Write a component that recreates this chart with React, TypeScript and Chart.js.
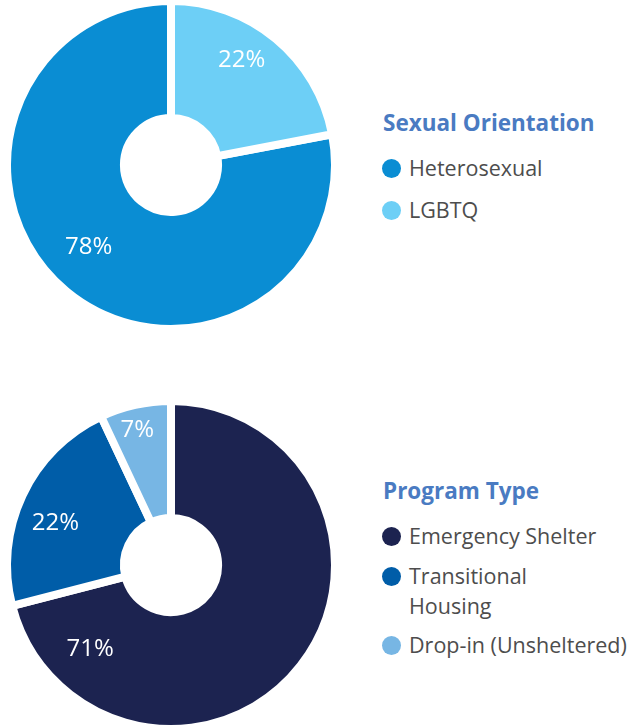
import React, { useEffect, useRef } from "react";
import { Chart, registerables } from "chart.js";

Chart.register(...registerables);

// ---- Data ----
const orientationTitle = "Sexual Orientation";
const orientationLabels = ["Heterosexual", "LGBTQ"];
const orientationValues = [78, 22];
const orientationColors = ["#0A8DD3", "#6DCFF6"];

const programTitle = "Program Type";
const programLabels = ["Emergency Shelter", "Transitional\nHousing", "Drop-in (Unsheltered)"];
const programValues = [71, 22, 7];
const programColors = ["#1C2350", "#005DA8", "#77B6E4"];

const FONT = "'Open Sans', 'Noto Sans', sans-serif";

const sliceLabels = {
  id: "sliceLabels",
  afterDatasetsDraw(chart: any, _args: any, opts: any) {
    const meta = chart.getDatasetMeta(0);
    const ds = chart.data.datasets[0];
    const ctx = chart.ctx;
    ctx.save();
    ctx.font = `400 24px ${FONT}`;
    ctx.fillStyle = "#ffffff";
    ctx.textAlign = "center";
    ctx.textBaseline = "middle";
    meta.data.forEach((arc: any, i: number) => {
      const { x, y, outerRadius } = arc.getProps(["x", "y", "outerRadius"], true);
      const pos = opts.positions[i];
      const a = ((pos.angle - 90) * Math.PI) / 180;
      const r = pos.r * outerRadius;
      ctx.fillText(ds.data[i] + "%", x + r * Math.cos(a), y + r * Math.sin(a));
    });
    ctx.restore();
  },
};

type BlockProps = {
  top: number;
  title: string;
  labels: string[];
  values: number[];
  colors: string[];
  rotation: number;
  positions: { angle: number; r: number }[];
  titleY: number;
  itemYs: number[];
};

const CW = 342;
const CH = 336;

function DonutBlock(p: BlockProps) {
  const ref = useRef<HTMLCanvasElement | null>(null);
  useEffect(() => {
    if (!ref.current) return;
    const chart = new Chart(ref.current, {
      type: "doughnut",
      data: {
        labels: p.labels,
        datasets: [
          {
            data: p.values,
            backgroundColor: p.colors,
            borderWidth: 8,
            borderColor: "#ffffff",
            borderAlign: "center",
          },
        ],
      },
      options: {
        responsive: false,
        animation: false,
        cutout: "28.7%",
        rotation: p.rotation,
        layout: { padding: 0 },
        plugins: {
          legend: { display: false },
          tooltip: { enabled: false },
          sliceLabels: { positions: p.positions },
        } as any,
      },
      plugins: [sliceLabels],
    });
    return () => chart.destroy();
  }, []);

  return (
    <>
      <canvas
        ref={ref}
        width={CW}
        height={CH}
        style={{ position: "absolute", left: 0, top: p.top, width: CW, height: CH, display: "block" }}
      />
      <div
        style={{
          position: "absolute",
          left: 383,
          top: p.titleY - 15,
          height: 30,
          lineHeight: "30px",
          fontFamily: FONT,
          fontWeight: 700,
          fontSize: 22.5,
          color: "#4A7BC2",
          whiteSpace: "nowrap",
        }}
      >
        {p.title}
      </div>
      {p.labels.map((lab, i) => (
        <React.Fragment key={i}>
          <div
            style={{
              position: "absolute",
              left: 382,
              top: p.itemYs[i] - 9.5,
              width: 19,
              height: 19,
              borderRadius: "50%",
              background: p.colors[i],
            }}
          />
          <div
            style={{
              position: "absolute",
              left: 409,
              top: p.itemYs[i] - 15,
              lineHeight: "30px",
              fontFamily: FONT,
              fontSize: 21.5,
              color: "#4D4D4D",
              whiteSpace: "pre-line",
            }}
          >
            {lab}
          </div>
        </React.Fragment>
      ))}
    </>
  );
}

export default function App() {
  const total1 = orientationValues.reduce((a, b) => a + b, 0);
  const rot1 = (orientationValues[1] / total1) * 360;
  return (
    <div style={{ position: "absolute", left: 0, top: 0, width: 643, height: 726, overflow: "hidden", background: "#fff" }}>
      <DonutBlock
        top={-3}
        title={orientationTitle}
        labels={orientationLabels}
        values={orientationValues}
        colors={orientationColors}
        rotation={rot1}
        positions={[
          { angle: 225, r: 0.71 },
          { angle: 34, r: 0.77 },
        ]}
        titleY={123}
        itemYs={[168, 210]}
      />
      <DonutBlock
        top={397}
        title={programTitle}
        labels={programLabels}
        values={programValues}
        colors={programColors}
        rotation={0}
        positions={[
          { angle: 224, r: 0.71 },
          { angle: 290, r: 0.75 },
          { angle: 346, r: 0.85 },
        ]}
        titleY={491}
        itemYs={[536, 576, 645]}
      />
    </div>
  );
}
